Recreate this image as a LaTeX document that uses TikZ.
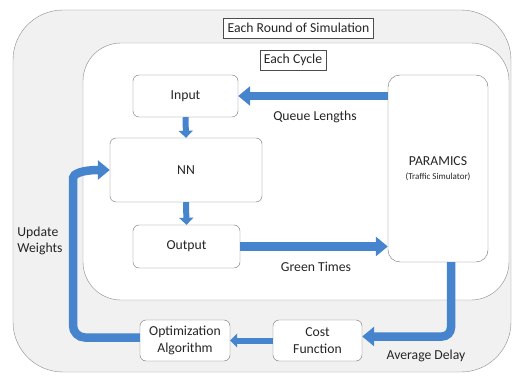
\documentclass[tikz,border=0pt]{standalone}
\usepackage{fontspec}
\setmainfont{Carlito}
\usetikzlibrary{arrows.meta}
\definecolor{flowblue}{RGB}{70,132,206}
\definecolor{roundgray}{RGB}{241,241,241}
\begin{document}
\begin{tikzpicture}[x=1pt, y=-1pt, every node/.style={font=\fontsize{13.7}{16.5}\selectfont, text=black!85},
  blk/.style={draw=black!55, fill=white, rounded corners=6pt, align=center, inner sep=2pt},
  tagbox/.style={draw=black!70, fill=white, inner xsep=4pt, minimum height=20pt},
  bigflow/.style={flowblue, line width=8.5pt, -{Triangle[length=12pt, width=19pt]}},
  smallflow/.style={flowblue, line width=6pt, -{Triangle[length=7pt, width=14pt]}}]
  \useasboundingbox (0,0) rectangle (517,377);
  % frames for the simulation round and the cycle
  \draw[draw=black!45, fill=roundgray, rounded corners=50pt] (13,10) rectangle (511,372);
  \draw[draw=black!45, fill=white, rounded corners=38pt] (83,43) rectangle (509,300);
  \node[tagbox] (round) at (298.5,28) {Each Round of Simulation};
  \node[tagbox] (cycle) at (293,60) {Each Cycle};
  % blocks
  \node[blk, minimum width=105, minimum height=42] (inp) at (185.5,96) {Input};
  \node[blk, minimum width=152, minimum height=64] (nn) at (186,170) {NN};
  \node[blk, minimum width=107, minimum height=43] (out) at (186.5,246.5) {Output};
  \node[blk, minimum width=100, minimum height=187, rounded corners=12pt] (par) at (438,168.5)
    {PARAMICS\\[-2pt]{\fontsize{9}{11}\selectfont(Traffic Simulator)}};
  \node[blk, minimum width=90, minimum height=41] (opt) at (185,340.5) {Optimization\\Algorithm};
  \node[blk, minimum width=89, minimum height=41] (cost) at (317.5,340.5) {Cost\\Function};
  % flow labels
  \node (ql) at (315,117) {Queue Lengths};
  \node (gt) at (316,267) {Green Times};
  \node[align=left] (uw) at (40,241) {Update\\Weights};
  \node (ad) at (426,356) {Average Delay};
  % flows
  \coordinate (bend) at (73,190);
  \draw[bigflow] (par.west |- inp.east) -- (inp.east);
  \draw[smallflow] (inp.south) -- (nn.north);
  \draw[smallflow] (nn.south) -- (out.north);
  \draw[bigflow] (out.east) -- (out.east -| par.west);
  \draw[bigflow, rounded corners=9pt] ([xshift=13pt]par.south) |- ([yshift=4pt]cost.east);
  \draw[smallflow] (cost.west) -- (opt.east);
  \draw[bigflow, rounded corners=12pt] ([yshift=3pt]opt.west) -| (bend) .. controls (73,174) and (82,170) .. (nn.west);
\end{tikzpicture}
\end{document}
